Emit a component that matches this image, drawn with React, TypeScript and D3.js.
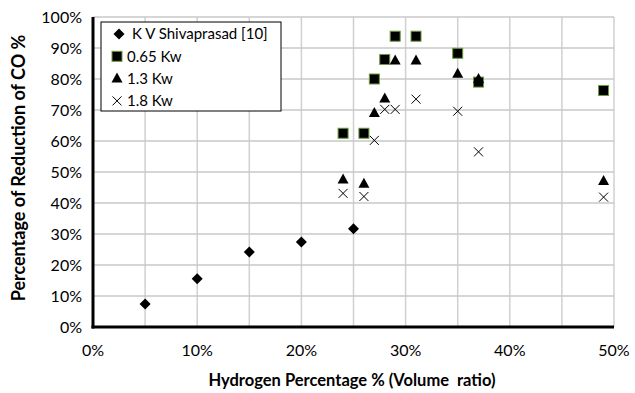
import React from "react";
import * as d3 from "d3";

// x = hydrogen % (volume ratio), y = % reduction of CO
const shivaX = [5, 10, 15, 20, 25];
const shivaY = [7.4, 15.6, 24.2, 27.4, 31.7];

const h2X = [24, 26, 27, 28, 29, 31, 35, 37, 49];
const kw065 = [62.5, 62.5, 80, 86.3, 93.8, 93.8, 88.3, 79, 76.3];
const kw13 = [47.6, 46.2, 69, 73.7, 86, 86, 81.7, 80, 47.1];
const kw18 = [43.1, 42.1, 60.2, 70.2, 70.2, 73.5, 69.6, 56.5, 41.9];

const xTicks = [0, 10, 20, 30, 40, 50];
const xGrid = [0, 5, 10, 15, 20, 25, 30, 35, 40, 45, 50];
const yTicks = [0, 10, 20, 30, 40, 50, 60, 70, 80, 90, 100];

const legendLabels = ["K V Shivaprasad [10]", "0.65 Kw", "1.3 Kw", "1.8 Kw"];

const W = 635;
const H = 393;
const margin = { top: 17, right: 21, bottom: 66, left: 93 };
const font = "Lato, 'Open Sans', sans-serif";

const Marker = ({ kind, x, y }: { kind: string; x: number; y: number }) => {
  if (kind === "diamond") {
    return <path d={`M${x},${y - 5.5}L${x + 5.5},${y}L${x},${y + 5.5}L${x - 5.5},${y}Z`} fill="#000" />;
  }
  if (kind === "square") {
    return <rect x={x - 5} y={y - 5} width={10} height={10} fill="#000" stroke="#6b9a3c" strokeWidth={1} />;
  }
  if (kind === "triangle") {
    return <path d={`M${x},${y - 6}L${x + 5.5},${y + 4}L${x - 5.5},${y + 4}Z`} fill="#000" />;
  }
  return (
    <path
      d={`M${x - 4.5},${y - 4.5}L${x + 4.5},${y + 4.5}M${x - 4.5},${y + 4.5}L${x + 4.5},${y - 4.5}`}
      stroke="#000"
      strokeWidth={1}
      fill="none"
    />
  );
};

export default function App() {
  const iw = W - margin.left - margin.right;
  const ih = H - margin.top - margin.bottom;
  const x = d3.scaleLinear().domain([0, 50]).range([0, iw]);
  const y = d3.scaleLinear().domain([0, 100]).range([ih, 0]);

  const series = [
    { kind: "diamond", xs: shivaX, ys: shivaY },
    { kind: "square", xs: h2X, ys: kw065 },
    { kind: "triangle", xs: h2X, ys: kw13 },
    { kind: "cross", xs: h2X, ys: kw18 },
  ];

  return (
    <svg width={W} height={H} style={{ display: "block", position: "absolute", left: 0, top: 0, background: "#fff" }}>
      <g transform={`translate(${margin.left},${margin.top})`}>
        {xGrid.map((t) => (
          <line key={"gx" + t} x1={x(t)} x2={x(t)} y1={0} y2={ih} stroke="#d0d0d0" strokeWidth={1.5} />
        ))}
        {yTicks.map((t) => (
          <line key={"gy" + t} x1={0} x2={iw} y1={y(t)} y2={y(t)} stroke="#c8c8c8" strokeWidth={1.5} />
        ))}
        <line x1={0} x2={0} y1={0} y2={ih + 1.5} stroke="#000" strokeWidth={3} />
        <line x1={-1.5} x2={iw} y1={ih} y2={ih} stroke="#000" strokeWidth={3} />

        {yTicks.map((t) => (
          <text key={"ty" + t} x={-11} y={y(t)} dy="0.35em" textAnchor="end" fontFamily={font} fontSize={16} fill="#000">
            {t}%
          </text>
        ))}
        {xTicks.map((t) => (
          <text key={"tx" + t} x={x(t)} y={ih + 29} textAnchor="middle" fontFamily={font} fontSize={16} fill="#000">
            {t}%
          </text>
        ))}

        {series.map((s) =>
          s.xs.map((xv, i) => <Marker key={s.kind + i} kind={s.kind} x={x(xv)} y={y(s.ys[i])} />)
        )}
      </g>

      {/* legend */}
      <g>
        <rect x={101} y={22} width={180} height={89} fill="#fff" stroke="#000" strokeWidth={1} />
        {legendLabels.map((l, i) => {
          const ly = 34 + i * 22.3;
          const kind = series[i].kind;
          const mx = i === 0 ? 119 : 117;
          return (
            <g key={l}>
              <Marker kind={kind} x={mx} y={ly} />
              <text x={i === 0 ? 132 : 127} y={ly} dy="0.35em" fontFamily={font} fontSize={15} fill="#000">
                {l}
              </text>
            </g>
          );
        })}
      </g>

      <text
        x={352}
        y={380}
        dy="0.35em"
        textAnchor="middle"
        fontFamily={font}
        fontSize={16.5}
        fontWeight="bold"
        fill="#000"
        style={{ whiteSpace: "pre" }}
      >
        {"Hydrogen Percentage % (Volume  ratio)"}
      </text>
      <text
        transform="translate(19,168) rotate(-90)"
        dy="0.35em"
        textAnchor="middle"
        fontFamily={font}
        fontSize={18}
        fontWeight="bold"
        fill="#000"
      >
        Percentage of Reduction of CO %
      </text>
    </svg>
  );
}
